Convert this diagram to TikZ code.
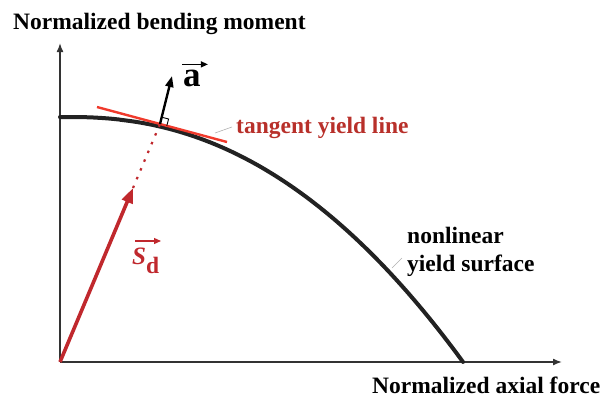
\documentclass[tikz,border=0pt]{standalone}
\usepackage{fontspec}
\setmainfont{Liberation Serif}
\usetikzlibrary{arrows.meta,calc}
\definecolor{axisgray}{HTML}{333333}
\definecolor{curveblack}{HTML}{222222}
\definecolor{darkred}{HTML}{C0282D}
\definecolor{brightred}{HTML}{F03A2C}
\definecolor{labelred}{HTML}{B8302A}
\definecolor{leadergray}{HTML}{B0B0B0}
\tikzset{
  lbl/.style={inner sep=0pt, font=\fontsize{23.5}{28}\selectfont\bfseries},
  axisline/.style={draw=axisgray, line width=1.5pt, -{Latex[length=9pt,width=7pt]}},
  leader/.style={draw=leadergray, line width=0.6pt},
  vecarrow/.style={line width=1.3pt, -{Triangle[length=7pt,width=6pt]}},
}
\begin{document}
\begin{tikzpicture}[x=1pt,y=-1pt]
\useasboundingbox (0,0) rectangle (603,397);
% coordinates
\coordinate (O) at (60,362);
\coordinate (ytip) at (60,43);
\coordinate (xtip) at (562,362);
\coordinate (tp) at (160,124);
\coordinate (tA) at (97,107);
\coordinate (tB) at (227,142);
\coordinate (atip) at (172,76);
\coordinate (stip) at (133,188);
% axes
\draw[axisline] (O) -- (ytip);
\draw[axisline] (O) -- (xtip);
% yield surface
\draw[curveblack, line width=4pt, line cap=round]
  plot[domain=60:463, samples=220, smooth] (\x, {362 - 245*(1 - pow((abs(\x-70)+0.0001)/393,2.2))});
% tangent yield line
\draw[brightred, line width=2.4pt] (tA) -- (tB);
% dotted extension
\draw[darkred, line width=2.2pt, dash pattern=on 2.5pt off 7pt] (stip) -- (tp);
% design vector s_d
\draw[darkred, line width=3.6pt, -{Triangle[length=15pt,width=11pt]}] (O) -- (stip);
% normal vector a
\draw[black, line width=2.4pt, -{Triangle[length=11pt,width=8pt]}] (tp) -- (atip);
% right angle mark
\draw[black, line width=0.9pt] ($(tp)+(6.8,1.8)$) coordinate (r1) -- ++(1.8,-6.8) coordinate (r2) -- ++(-6.8,-1.8);
% labels
\node[lbl, anchor=base west] (ylab) at (13,29) {Normalized bending moment};
\node[lbl, anchor=base west] (xlab) at (372,393) {Normalized axial force};
\node[lbl, anchor=base west, text=labelred] (tlab) at (236,133) {tangent yield line};
\node[lbl, anchor=base west] (nlab1) at (407,243) {nonlinear};
\node[lbl, anchor=base west] (nlab2) at (407,271) {yield surface};
\node[lbl, anchor=base west, font=\fontsize{35}{40}\selectfont\bfseries] (alab) at (183,86) {a};
\node[lbl, anchor=base west, text=darkred, font=\fontsize{25}{30}\selectfont\bfseries] (slab) at (132,264) {\itshape S\raisebox{-9pt}{\upshape\fontsize{23.5}{28}\selectfont d}};
% vector arrows over labels
\draw[black, vecarrow] ([xshift=-1pt,yshift=5pt]alab.north west) -- ([xshift=7pt,yshift=5pt]alab.north east);
\draw[darkred, vecarrow] (135,241) -- (161,241);
% leaders
\draw[leader] (215,133) -- (232,127);
\draw[leader] (392,268) -- (402,258);
\end{tikzpicture}
\end{document}
